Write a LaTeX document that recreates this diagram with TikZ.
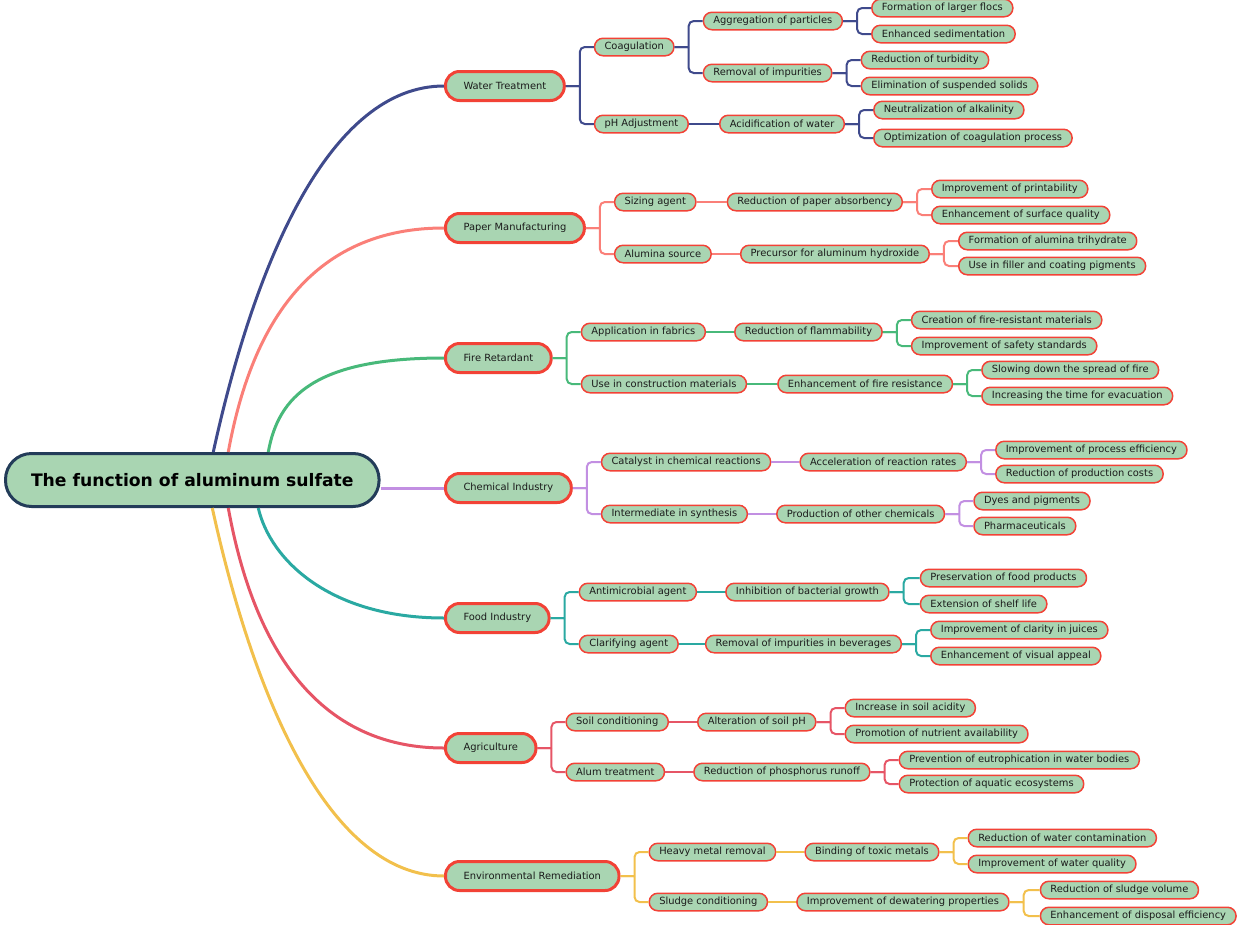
\documentclass[tikz,border=0pt]{standalone}
\usepackage{fontspec}
\setmainfont{DejaVu Sans}
\usetikzlibrary{positioning}
\definecolor{nodefill}{HTML}{A9D5B2}
\definecolor{nodeline}{HTML}{F24236}
\definecolor{rootline}{HTML}{233C59}
\definecolor{cwater}{HTML}{3F4A8C}
\definecolor{cpaper}{HTML}{FA7F78}
\definecolor{cfire}{HTML}{48B97A}
\definecolor{cchem}{HTML}{C28FE2}
\definecolor{cfood}{HTML}{2AA9A2}
\definecolor{cagri}{HTML}{E65566}
\definecolor{cenv}{HTML}{F2C04C}
\definecolor{txt}{HTML}{1B1B1B}
\tikzset{
  rootnode/.style={draw=rootline, line width=3pt, fill=nodefill, rounded corners=26pt,
    minimum height=53pt, inner xsep=25.5pt, text=black,
    font=\fontsize{17.2}{20}\selectfont\bfseries},
  mainnode/.style={draw=nodeline, line width=3pt, fill=nodefill, rounded corners=14pt,
    minimum height=29pt, inner xsep=18pt, text=txt, anchor=west,
    font=\fontsize{9.9}{12}\selectfont},
  subnode/.style={draw=nodeline, line width=1.5pt, fill=nodefill, rounded corners=8.5pt,
    minimum height=17.5pt, inner xsep=10pt, inner ysep=0pt, text=txt,
    font=\fontsize{9.9}{12}\selectfont},
  rootedge/.style={line width=3pt},
  forkedge/.style={line width=2pt, rounded corners=5pt},
}
\begin{document}
\begin{tikzpicture}[x=1pt, y=-1pt]
  \useasboundingbox (0,0) rectangle (1240,924);

  \node[rootnode, anchor=west] (root) at (4,480) {The function of aluminum sulfate};

  \node[mainnode] (wt) at (444,86) {Water Treatment};
  \node[mainnode] (pm) at (444,228) {Paper Manufacturing};
  \node[mainnode] (fr) at (444,358) {Fire Retardant};
  \node[mainnode] (ci) at (444,488) {Chemical Industry};
  \node[mainnode] (fi) at (444,618) {Food Industry};
  \node[mainnode] (ag) at (444,748) {Agriculture};
  \node[mainnode] (er) at (444,876) {Environmental Remediation};

  \node[subnode, right=28pt of wt, yshift=39pt] (coag) {Coagulation};
  \node[subnode, right=28pt of coag, yshift=26pt] (agg) {Aggregation of particles};
  \node[subnode, right=28pt of agg, yshift=13pt] (flocs) {Formation of larger flocs};
  \node[subnode, right=28pt of agg, yshift=-13pt] (sedim) {Enhanced sedimentation};
  \node[subnode, right=28pt of coag, yshift=-26pt] (remimp) {Removal of impurities};
  \node[subnode, right=28pt of remimp, yshift=13pt] (turb) {Reduction of turbidity};
  \node[subnode, right=28pt of remimp, yshift=-13pt] (susp) {Elimination of suspended solids};
  \node[subnode, right=28pt of wt, yshift=-38pt] (ph) {pH Adjustment};
  \node[subnode, right=30pt of ph] (acid) {Acidification of water};
  \node[subnode, right=28pt of acid, yshift=14pt] (neut) {Neutralization of alkalinity};
  \node[subnode, right=28pt of acid, yshift=-14pt] (optim) {Optimization of coagulation process};

  \node[subnode, right=28pt of pm, yshift=26pt] (sizing) {Sizing agent};
  \node[subnode, right=30pt of sizing] (absorb) {Reduction of paper absorbency};
  \node[subnode, right=28pt of absorb, yshift=13pt] (print) {Improvement of printability};
  \node[subnode, right=28pt of absorb, yshift=-13pt] (surf) {Enhancement of surface quality};
  \node[subnode, right=28pt of pm, yshift=-26pt] (alsrc) {Alumina source};
  \node[subnode, right=28pt of alsrc] (precur) {Precursor for aluminum hydroxide};
  \node[subnode, right=28pt of precur, yshift=13pt] (trihyd) {Formation of alumina trihydrate};
  \node[subnode, right=28pt of precur, yshift=-12pt] (filler) {Use in filler and coating pigments};

  \node[subnode, right=28pt of fr, yshift=26pt] (fabric) {Application in fabrics};
  \node[subnode, right=28pt of fabric] (flamm) {Reduction of flammability};
  \node[subnode, right=28pt of flamm, yshift=12pt] (fireres) {Creation of fire-resistant materials};
  \node[subnode, right=28pt of flamm, yshift=-14pt] (safety) {Improvement of safety standards};
  \node[subnode, right=28pt of fr, yshift=-26pt] (constr) {Use in construction materials};
  \node[subnode, right=30pt of constr] (enhres) {Enhancement of fire resistance};
  \node[subnode, right=28pt of enhres, yshift=14pt] (spread) {Slowing down the spread of fire};
  \node[subnode, right=28pt of enhres, yshift=-12pt] (evac) {Increasing the time for evacuation};

  \node[subnode, right=28pt of ci, yshift=26pt] (catal) {Catalyst in chemical reactions};
  \node[subnode, right=28pt of catal] (accel) {Acceleration of reaction rates};
  \node[subnode, right=28pt of accel, yshift=12pt] (effic) {Improvement of process efficiency};
  \node[subnode, right=28pt of accel, yshift=-12pt] (costs) {Reduction of production costs};
  \node[subnode, right=28pt of ci, yshift=-26pt] (interm) {Intermediate in synthesis};
  \node[subnode, right=28pt of interm] (otherch) {Production of other chemicals};
  \node[subnode, right=28pt of otherch, yshift=13pt] (dyes) {Dyes and pigments};
  \node[subnode, right=28pt of otherch, yshift=-12pt] (pharma) {Pharmaceuticals};

  \node[subnode, right=28pt of fi, yshift=26pt] (antimic) {Antimicrobial agent};
  \node[subnode, right=28pt of antimic] (inhib) {Inhibition of bacterial growth};
  \node[subnode, right=30pt of inhib, yshift=14pt] (preserv) {Preservation of food products};
  \node[subnode, right=30pt of inhib, yshift=-12pt] (shelf) {Extension of shelf life};
  \node[subnode, right=28pt of fi, yshift=-26pt] (clarif) {Clarifying agent};
  \node[subnode, right=26pt of clarif] (bever) {Removal of impurities in beverages};
  \node[subnode, right=28pt of bever, yshift=14pt] (juice) {Improvement of clarity in juices};
  \node[subnode, right=28pt of bever, yshift=-12pt] (visual) {Enhancement of visual appeal};

  \node[subnode, right=28pt of ag, yshift=26pt] (soil) {Soil conditioning};
  \node[subnode, right=28pt of soil] (alter) {Alteration of soil pH};
  \node[subnode, right=28pt of alter, yshift=14pt] (acidity) {Increase in soil acidity};
  \node[subnode, right=28pt of alter, yshift=-12pt] (nutr) {Promotion of nutrient availability};
  \node[subnode, right=28pt of ag, yshift=-24pt] (alum) {Alum treatment};
  \node[subnode, right=28pt of alum] (phos) {Reduction of phosphorus runoff};
  \node[subnode, right=28pt of phos, yshift=12pt] (eutro) {Prevention of eutrophication in water bodies};
  \node[subnode, right=28pt of phos, yshift=-12pt] (aquat) {Protection of aquatic ecosystems};

  \node[subnode, right=28pt of er, yshift=24pt] (heavy) {Heavy metal removal};
  \node[subnode, right=28pt of heavy] (toxic) {Binding of toxic metals};
  \node[subnode, right=28pt of toxic, yshift=14pt] (contam) {Reduction of water contamination};
  \node[subnode, right=28pt of toxic, yshift=-12pt] (quality) {Improvement of water quality};
  \node[subnode, right=28pt of er, yshift=-26pt] (sludge) {Sludge conditioning};
  \node[subnode, right=28pt of sludge] (dewat) {Improvement of dewatering properties};
  \node[subnode, right=30pt of dewat, yshift=12pt] (volume) {Reduction of sludge volume};
  \node[subnode, right=30pt of dewat, yshift=-14pt] (dispos) {Enhancement of disposal efficiency};

  \begin{scope}[rootedge]
    \draw[cwater] ([xshift=21pt]root.north) .. controls +(42,-192) and +(-114,0) .. (wt.west);
    \draw[cpaper] ([xshift=36pt]root.north) .. controls +(20,-110) and +(-144,0) .. (pm.west);
    \draw[cfire] ([xshift=76pt]root.north) .. controls +(10,-55) and +(-130,0) .. (fr.west);
    \draw[cchem] (root.east |- ci.west) -- (ci.west);
    \draw[cfood] ([xshift=66pt]root.south) .. controls +(12,52) and +(-114,0) .. (fi.west);
    \draw[cagri] ([xshift=36pt]root.south) .. controls +(20,110) and +(-144,0) .. (ag.west);
    \draw[cenv] ([xshift=20pt]root.south) .. controls +(42,192) and +(-114,0) .. (er.west);
  \end{scope}

  \begin{scope}[forkedge, cwater]
    \foreach \p/\c in {wt/coag, wt/ph, coag/agg, coag/remimp, agg/flocs, agg/sedim,
                       remimp/turb, remimp/susp, acid/neut, acid/optim}
      \draw (\p.east) -- ++(14,0) (\p.east) ++(14,0) |- (\c.west);
    \draw (ph) -- (acid);
  \end{scope}
  \begin{scope}[forkedge, cpaper]
    \foreach \p/\c in {pm/sizing, pm/alsrc, absorb/print, absorb/surf, precur/trihyd, precur/filler}
      \draw (\p.east) -- ++(14,0) (\p.east) ++(14,0) |- (\c.west);
    \draw (sizing) -- (absorb);
    \draw (alsrc) -- (precur);
  \end{scope}
  \begin{scope}[forkedge, cfire]
    \foreach \p/\c in {fr/fabric, fr/constr, flamm/fireres, flamm/safety, enhres/spread, enhres/evac}
      \draw (\p.east) -- ++(14,0) (\p.east) ++(14,0) |- (\c.west);
    \draw (fabric) -- (flamm);
    \draw (constr) -- (enhres);
  \end{scope}
  \begin{scope}[forkedge, cchem]
    \foreach \p/\c in {ci/catal, ci/interm, accel/effic, accel/costs, otherch/dyes, otherch/pharma}
      \draw (\p.east) -- ++(14,0) (\p.east) ++(14,0) |- (\c.west);
    \draw (catal) -- (accel);
    \draw (interm) -- (otherch);
  \end{scope}
  \begin{scope}[forkedge, cfood]
    \foreach \p/\c in {fi/antimic, fi/clarif, inhib/preserv, inhib/shelf, bever/juice, bever/visual}
      \draw (\p.east) -- ++(14,0) (\p.east) ++(14,0) |- (\c.west);
    \draw (antimic) -- (inhib);
    \draw (clarif) -- (bever);
  \end{scope}
  \begin{scope}[forkedge, cagri]
    \foreach \p/\c in {ag/soil, ag/alum, alter/acidity, alter/nutr, phos/eutro, phos/aquat}
      \draw (\p.east) -- ++(14,0) (\p.east) ++(14,0) |- (\c.west);
    \draw (soil) -- (alter);
    \draw (alum) -- (phos);
  \end{scope}
  \begin{scope}[forkedge, cenv]
    \foreach \p/\c in {er/heavy, er/sludge, toxic/contam, toxic/quality, dewat/volume, dewat/dispos}
      \draw (\p.east) -- ++(14,0) (\p.east) ++(14,0) |- (\c.west);
    \draw (heavy) -- (toxic);
    \draw (sludge) -- (dewat);
  \end{scope}
\end{tikzpicture}
\end{document}
